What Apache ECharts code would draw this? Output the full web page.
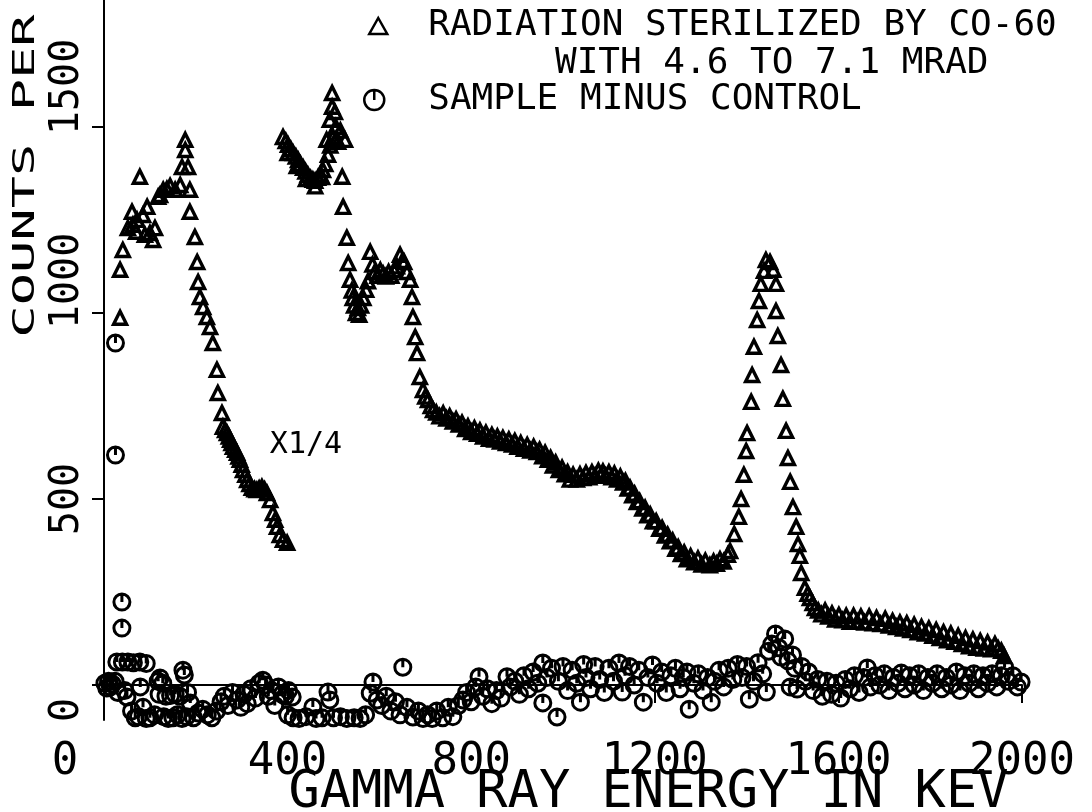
<!DOCTYPE html>
<html>
<head>
<meta charset="utf-8">
<title>Gamma ray spectrum</title>
<script src="https://cdn.jsdelivr.net/npm/echarts@6/dist/echarts.min.js"></script>
<style>
  html, body { margin: 0; padding: 0; background: #fff; }
  #chart { width: 1092px; height: 812px; }
</style>
</head>
<body>
<div id="chart"></div>
<script>
// triangles left of 400 keV are plotted at 1/4 scale (the "X1/4" part)
const scaledEnergy = [35, 35, 41, 52, 61, 63, 70, 72, 78, 85, 89, 94, 100, 107, 111, 118, 122, 129, 137, 144,
  155, 166, 170, 177, 177, 183, 187, 187, 198, 203, 205, 209, 216, 224, 231, 237, 246, 248, 257, 259,
  264, 268, 272, 275, 278, 281, 286, 290, 293, 296, 300, 303, 308, 312, 317, 322, 328, 333, 338, 344,
  350, 355, 362, 368, 373, 377, 383, 390, 399]
const scaledCounts = [987, 1116, 1169, 1228, 1272, 1237, 1218, 1250, 1366, 1263, 1210, 1285, 1215, 1196, 1228, 1312, 1317, 1331, 1333, 1341,
  1331, 1344, 1392, 1438, 1465, 1392, 1331, 1272, 1204, 1137, 1083, 1043, 1016, 989, 962, 919, 847, 785, 731, 694,
  685, 677, 668, 659, 650, 640, 632, 624, 614, 605, 592, 578, 565, 551, 540, 530, 526, 524, 528, 532,
  525, 516, 497, 462, 444, 425, 403, 390, 382]

// rest of the sterilized spectrum
const spectrumEnergy = [390, 396, 401, 407, 412, 418, 423, 428, 434, 439, 444, 450, 455, 460, 466, 471, 477, 482, 488, 493, 499,
  400, 420, 440, 460, 475, 485, 505, 525,
  492, 497, 497, 503, 505, 510, 515, 519, 521, 529, 532,
  536, 540, 542, 545, 549, 553, 556, 560, 565, 571, 575,
  580, 585, 590, 596, 602, 608, 614, 620, 626, 632, 638, 645, 650, 654, 660, 667,
  671, 673, 678, 682, 688, 695, 700, 706, 712, 717, 724, 731, 739, 746, 753, 760, 767, 773, 780, 787,
  793, 800, 807, 813, 819, 826, 832, 839, 845, 851, 857, 863, 869, 876, 882, 889, 895, 901, 908, 915,
  922, 929, 936, 943, 949, 955, 961, 967, 973, 978, 984, 991, 998, 1004, 1010, 1015, 1022, 1030, 1037, 1044,
  1050, 1057, 1063, 1070, 1077, 1083, 1087, 1093, 1100, 1106, 1112, 1118, 1125, 1131, 1136, 1141, 1146, 1151, 1156, 1161,
  1167, 1173, 1179, 1184, 1190, 1196, 1203, 1210, 1216, 1222, 1228, 1233, 1239, 1245, 1251, 1257, 1264, 1270, 1278, 1286,
  1294, 1302, 1310, 1320, 1328, 1335, 1342, 1350, 1359, 1364,
  1373, 1383, 1388, 1394, 1399, 1401, 1410, 1412, 1416, 1423, 1427, 1431, 1438, 1442, 1451, 1458, 1464, 1464, 1468, 1475,
  1479, 1486, 1490, 1495, 1501, 1508, 1512, 1516, 1519, 1527,
  1533, 1538, 1544, 1549, 1556, 1563, 1571, 1578, 1586, 1593, 1601, 1609, 1617, 1625, 1633, 1641, 1649, 1657, 1667, 1675,
  1683, 1692, 1702, 1710, 1718, 1726, 1734, 1741, 1749, 1757, 1765, 1773, 1781, 1789, 1797, 1805, 1813, 1821, 1829, 1837,
  1845, 1853, 1861, 1869, 1877, 1885, 1893, 1901, 1909, 1917, 1925, 1933, 1941, 1948, 1955, 1961]
const spectrumCounts = [1473, 1462, 1452, 1440, 1430, 1420, 1411, 1400, 1390, 1380, 1371, 1362, 1358, 1355, 1363, 1372, 1384, 1400, 1425, 1450, 1473,
  1430, 1395, 1360, 1340, 1365, 1465, 1465, 1465,
  1519, 1554, 1591, 1540, 1500, 1460, 1490, 1366, 1285, 1202, 1134,
  1089, 1060, 1040, 1020, 1000, 1013, 995, 1020, 1040, 1062, 1085,
  1164, 1130, 1110, 1100, 1115, 1105, 1098, 1110, 1100, 1115, 1125, 1156, 1140, 1137, 1110, 1089,
  1043, 989, 935, 892, 828, 793, 775, 766, 750, 739, 732, 722, 730, 716, 722, 708, 714, 700, 705, 688,
  695, 680, 690, 675, 684, 668, 678, 662, 672, 660, 668, 654, 664, 650, 660, 646, 656, 640, 650, 635,
  645, 630, 640, 626, 632, 615, 624, 605, 610, 590, 598, 578, 584, 566, 572, 552, 565, 552, 566, 556,
  570, 558, 572, 562, 576, 564, 574, 562, 572, 558, 568, 552, 560, 544, 548, 528, 530, 510, 514, 492,
  494, 474, 476, 456, 458, 440, 440, 420, 422, 402, 404, 386, 388, 366, 370, 352, 356, 338, 346, 330,
  340, 324, 334, 322, 332, 326, 338, 332, 350, 360,
  406, 452, 500, 565, 629, 677, 761, 833, 909, 981, 1032, 1078, 1113, 1142, 1137, 1116, 1078, 1005, 938, 860,
  769, 683, 610, 546, 478, 425, 379, 347, 301, 261,
  245, 234, 220, 207, 200, 190, 200, 184, 192, 176, 188, 174, 186, 170, 186, 170, 184, 168, 184, 166,
  180, 164, 178, 160, 172, 156, 168, 152, 166, 148, 162, 142, 156, 138, 152, 132, 148, 126, 142, 120,
  138, 116, 132, 110, 126, 104, 122, 100, 118, 98, 114, 96, 110, 98, 92, 78]

// sample minus control
const diffEnergy = [2, 6, 10, 14, 18, 25, 25, 39, 39, 28, 40, 52, 64, 78, 92,
  24, 30, 45, 50, 60, 68, 75, 79, 85, 92, 100, 110,
  118, 122, 128, 120, 135, 145, 155, 165, 172, 175, 182, 188,
  130, 140, 150, 160, 170, 180, 195, 205, 215, 225, 235, 245,
  255, 262, 270, 280, 290, 298, 305, 312, 320, 330, 338, 346, 352, 358, 365, 372, 380, 388, 395, 402, 410,
  400, 412, 425, 440, 455, 462, 475, 488, 492, 500, 515, 529, 545, 558, 570,
  580, 586, 595, 605, 615, 625, 635, 645, 651, 660, 673, 685, 695, 705, 715, 725, 738, 750, 760, 772, 782,
  790, 800, 810, 817, 825, 835, 845, 855, 865, 878, 885, 895, 905, 915, 925, 935, 945, 956, 956, 965,
  975, 987, 990, 1000, 1010, 1020, 1030, 1038, 1045,
  1050, 1060, 1070, 1080, 1090, 1100, 1110, 1122, 1129, 1135, 1145, 1155, 1165, 1175, 1185, 1195, 1205, 1215, 1225, 1235,
  1245, 1255, 1262, 1270, 1275, 1285, 1295, 1305, 1315, 1323, 1330, 1340, 1350, 1360, 1370, 1380, 1390, 1400, 1406, 1415,
  1425, 1435, 1443, 1448, 1455, 1463, 1470, 1475, 1483, 1490, 1500, 1495, 1505, 1510, 1520, 1528, 1535, 1545, 1555, 1565,
  1575, 1585, 1595, 1605, 1615, 1625, 1635, 1645, 1655, 1663, 1670, 1680, 1690, 1700, 1710, 1720, 1730, 1737, 1745, 1755,
  1765, 1775, 1785, 1795, 1805, 1815, 1825, 1835, 1845, 1857, 1865, 1875, 1885, 1895, 1905, 1915, 1925, 1935, 1945, 1955,
  1962, 1970, 1980, 1990, 1998]
const diffCounts = [5, -8, 10, -5, 3, 919, 618, 223, 153, 62, 62, 62, 60, 62, 58,
  10, -20, -15, -32, -70, -88, -85, -5, -60, -90, -88, -80,
  10, 19, 5, -25, -30, -28, -25, -30, 40, 27, -20, -48,
  -85, -90, -88, -80, -90, -85, -88, -75, -65, -80, -88, -70,
  -45, -30, -55, -20, -40, -60, -25, -50, -10, -35, 5, 13, 0, -30, -15, -55, -5, -25, -30, -15, -32,
  -80, -88, -90, -85, -59, -90, -88, -19, -40, -88, -85, -90, -88, -90, -80,
  -22, 8, -40, -55, -30, -70, -45, -80, 48, -60, -86, -70, -90, -80, -90, -70, -88, -60, -85, -55, -40,
  -20, -45, -5, 22, -30, -10, -50, -15, -35, 22, -5, 10, -25, 25, -10, 35, 5, 59, -48, 20,
  45, -86, 10, 50, -15, 40, 5, -46, 55,
  20, -10, 50, 15, -20, 45, 10, 59, -19, 25, 50, 0, 40, -46, 20, 54, 5, 35, -20, 25,
  45, -10, 20, 35, -65, 5, 30, -15, 20, -46, 10, 40, -5, 45, 15, 55, 20, 50, -38, 10,
  60, 30, -19, 91, 110, 137, 100, 75, 124, 65, 81, -5, 45, -11, 50, 10, 35, -15, 15, -30,
  10, -25, 5, -35, 15, -10, 25, -20, 20, 46, -5, 25, 0, 30, -15, 20, 5, 32, -10, 25,
  0, 30, -15, 20, 5, 30, -10, 20, 0, 35, -15, 25, 5, 30, -10, 25, 5, 30, -5, 25,
  48, 10, 25, -5, 8]

const xTicks = [0, 400, 800, 1200, 1600, 2000]
const yTicks = [0, 500, 1000, 1500]

const mono = 'DejaVu Sans Mono'
const circleTick = 'path://M0,-10A10,10 0 1,1 0,10A10,10 0 1,1 0,-10ZM0,-10L0,0'
const sterilizedName = 'RADIATION STERILIZED BY CO-60'
const diffName = 'SAMPLE MINUS CONTROL'

const triangleData = scaledEnergy.map((e, i) => [e, scaledCounts[i]])
  .concat(spectrumEnergy.map((e, i) => [e, spectrumCounts[i]]))
const diffData = diffEnergy.map((e, i) => [e, diffCounts[i]])

const chart = echarts.init(document.getElementById('chart'))

chart.setOption({
  animation: false,
  backgroundColor: '#fff',
  title: {
    text: 'WITH 4.6 TO 7.1 MRAD',
    left: 555,
    top: 46,
    padding: 0,
    textStyle: { fontFamily: mono, fontSize: 36, fontWeight: 'normal', color: '#000' }
  },
  legend: [
    {
      data: [sterilizedName],
      left: 368,
      top: 8,
      padding: 0,
      itemWidth: 18,
      itemHeight: 16,
      icon: 'triangle',
      itemStyle: { color: 'rgba(0,0,0,0)', borderColor: '#000', borderWidth: 2.5 },
      textStyle: { fontFamily: mono, fontSize: 36, color: '#000', padding: [0, 0, 0, 36] }
    },
    {
      data: [diffName],
      left: 363,
      top: 82,
      padding: 0,
      itemWidth: 20,
      itemHeight: 20,
      icon: circleTick,
      itemStyle: { color: 'rgba(0,0,0,0)', borderColor: '#000', borderWidth: 2.5 },
      textStyle: { fontFamily: mono, fontSize: 36, color: '#000', padding: [0, 0, 0, 39] }
    }
  ],
  graphic: [
    {
      type: 'text',
      x: 26,
      y: 176,
      rotation: Math.PI / 2,
      scaleX: 1.79,
      style: {
        text: 'COUNTS PER',
        fontFamily: mono,
        fontSize: 30,
        fill: '#000',
        align: 'center',
        verticalAlign: 'middle'
      }
    }
  ],
  grid: {
    left: 104,
    right: 70,
    top: 0,
    bottom: 92,
    outerBoundsMode: 'none'
  },
  xAxis: {
    type: 'value',
    min: 0,
    max: 2000,
    interval: 400,
    name: 'GAMMA RAY ENERGY IN KEV',
    nameLocation: 'middle',
    nameGap: 47,
    nameMoveOverlap: false,
    nameTextStyle: { fontFamily: mono, fontSize: 52, color: '#000', padding: [0, 0, 0, 171] },
    axisLine: { lineStyle: { color: '#000', width: 2 } },
    axisTick: { show: true, length: 18, lineStyle: { color: '#000', width: 2 } },
    axisLabel: {
      margin: 21,
      fontFamily: mono,
      fontSize: 44,
      color: '#000',
      formatter: v => (v === 0 ? '{z|0}' : String(v)),
      rich: { z: { fontFamily: mono, fontSize: 44, color: '#000', padding: [0, 78, 0, 0] } }
    },
    splitLine: { show: false }
  },
  yAxis: {
    type: 'value',
    min: -94,
    max: 1841,
    axisLine: { show: true, lineStyle: { color: '#000', width: 2 } },
    axisTick: { show: true, customValues: yTicks, length: 12, lineStyle: { color: '#000', width: 2 } },
    axisLabel: {
      customValues: yTicks,
      rotate: 90,
      margin: 16,
      fontFamily: mono,
      fontSize: 40,
      color: '#000',
      formatter: v => '{t' + v + '|' + v + '}',
      rich: {
        t0: { fontFamily: mono, fontSize: 40, color: '#000', padding: [0, 50, 0, 0] },
        t500: { fontFamily: mono, fontSize: 40, color: '#000' },
        t1000: { fontFamily: mono, fontSize: 40, color: '#000', padding: [0, 0, 0, 64] },
        t1500: { fontFamily: mono, fontSize: 40, color: '#000', padding: [0, 0, 0, 80] }
      }
    },
    splitLine: { show: false }
  },
  series: [
    {
      name: sterilizedName,
      type: 'scatter',
      clip: false,
      symbol: 'triangle',
      symbolSize: 13,
      itemStyle: { color: 'rgba(0,0,0,0)', borderColor: '#000', borderWidth: 3.4, opacity: 1 },
      data: triangleData,
      markPoint: {
        silent: true,
        symbol: 'rect',
        symbolSize: 0,
        label: {
          show: true,
          position: 'inside',
          formatter: 'X1/4',
          fontFamily: mono,
          fontSize: 30,
          color: '#000'
        },
        data: [{ coord: [440, 645] }]
      }
    },
    {
      name: diffName,
      type: 'scatter',
      clip: false,
      symbol: circleTick,
      symbolSize: 16,
      itemStyle: { color: 'rgba(0,0,0,0)', borderColor: '#000', borderWidth: 3, opacity: 1 },
      data: diffData,
      markLine: {
        silent: true,
        symbol: ['none', 'none'],
        label: { show: false },
        lineStyle: { color: '#000', width: 2, type: 'solid' },
        data: [[{ coord: [0, 0] }, { coord: [2000, 0] }]]
      }
    }
  ]
})
</script>
</body>
</html>
